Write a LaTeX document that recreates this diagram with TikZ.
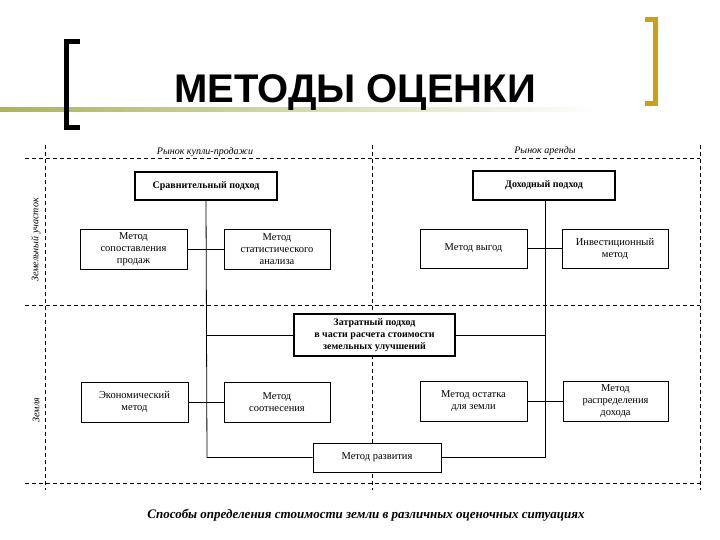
\documentclass[tikz,border=0pt]{standalone}
\usepackage{fontspec}
\setmainfont{Liberation Serif}
\newfontfamily\titlefont{Liberation Sans}
\begin{document}
\begin{tikzpicture}[x=1pt,y=-1pt,
  bx/.style={draw,fill=white,line width=0.8pt,align=center,font=\fontsize{10.5}{12}\selectfont,inner sep=0pt},
  hb/.style={bx,line width=1.6pt,font=\bfseries\fontsize{10}{12}\selectfont},
  dl/.style={line width=0.8pt,dash pattern=on 4pt off 3pt},
  ln/.style={line width=0.8pt},
  lbl/.style={font=\itshape\fontsize{10}{11}\selectfont,fill=white,inner sep=1pt}]
\useasboundingbox (0,0) rectangle (720,540);
% decoration
\shade[left color={rgb,255:red,170;green,180;blue,90}, right color=white] (0,108) rectangle (600,112);
\draw[line width=5pt] (80,42) -- (66,42) -- (66,128) -- (80,128);
\draw[line width=5pt,color={rgb,255:red,205;green,160;blue,20}] (645,20) -- (655,20) -- (655,104) -- (645,104);
\node[font=\titlefont\bfseries\fontsize{40}{44}\selectfont] (title) at (355,93) {МЕТОДЫ ОЦЕНКИ};
% grid
\coordinate (t1) at (25,158); \coordinate (t2) at (700,158);
\coordinate (m1) at (25,305); \coordinate (m2) at (700,305);
\coordinate (b1) at (25,483); \coordinate (b2) at (700,483);
\coordinate (v1) at (45,145); \coordinate (v2) at (45,490);
\coordinate (c1) at (372,145); \coordinate (c2) at (372,490);
\coordinate (r1) at (700,145); \coordinate (r2) at (700,490);
\draw[dl] (t1)--(t2); \draw[dl] (m1)--(m2); \draw[dl] (b1)--(b2);
\draw[dl] (v1)--(v2); \draw[dl] (c1)--(c2); \draw[dl] (r1)--(r2);
\node[lbl] (l1) at (205,152) {Рынок купли-продажи};
\node[lbl] (l2) at (545,151) {Рынок аренды};
\node[lbl,rotate=90] (l3) at (36,240) {Земельный участок};
\node[lbl,rotate=90] (l4) at (36,410) {Земля};
% boxes
\node[hb,minimum width=142,minimum height=28] (sr) at (206,186) {Сравнительный подход};
\node[hb,minimum width=142,minimum height=29] (dx) at (544,185.5) {Доходный подход};
\node[bx,minimum width=107,minimum height=40] (sp) at (133.5,249) {Метод\\сопоставления\\продаж};
\node[bx,minimum width=106,minimum height=40] (st) at (277,249) {Метод\\статистического\\анализа};
\node[bx,minimum width=107,minimum height=39] (vy) at (473.5,248.5) {Метод выгод};
\node[bx,minimum width=106,minimum height=39] (in) at (615,248.5) {Инвестиционный\\метод};
\node[hb,minimum width=161,minimum height=42] (zt) at (374.5,335) {Затратный подход\\в части расчета стоимости\\земельных улучшений};
\node[bx,minimum width=107,minimum height=40] (ek) at (134.5,402) {Экономический\\метод};
\node[bx,minimum width=106,minimum height=40] (so) at (277,402) {Метод\\соотнесения};
\node[bx,minimum width=107,minimum height=40] (os) at (473.5,401) {Метод остатка\\для земли};
\node[bx,minimum width=105,minimum height=40] (rd) at (615.5,401) {Метод\\распределения\\дохода};
\node[bx,minimum width=128,minimum height=29] (rz) at (377,457.5) {Метод развития};
% connectors
\draw[ln] (sr.south) -- (207,457.5) -- (rz.west);
\draw[ln] (sp.east) -- (st.west);
\draw[ln] (207,335) -- (zt.west);
\draw[ln] (ek.east) -- (so.west);
\draw[ln] (dx.south -| 545,0) -- (545,457.5) -- (rz.east);
\draw[ln] (vy.east) -- (in.west);
\draw[ln] (zt.east) -- (545,335);
\draw[ln] (os.east) -- (rd.west);
\node[font=\bfseries\itshape\fontsize{13}{15}\selectfont] (cap) at (366,515) {Способы определения стоимости земли в различных оценочных ситуациях};
\end{tikzpicture}
\end{document}
